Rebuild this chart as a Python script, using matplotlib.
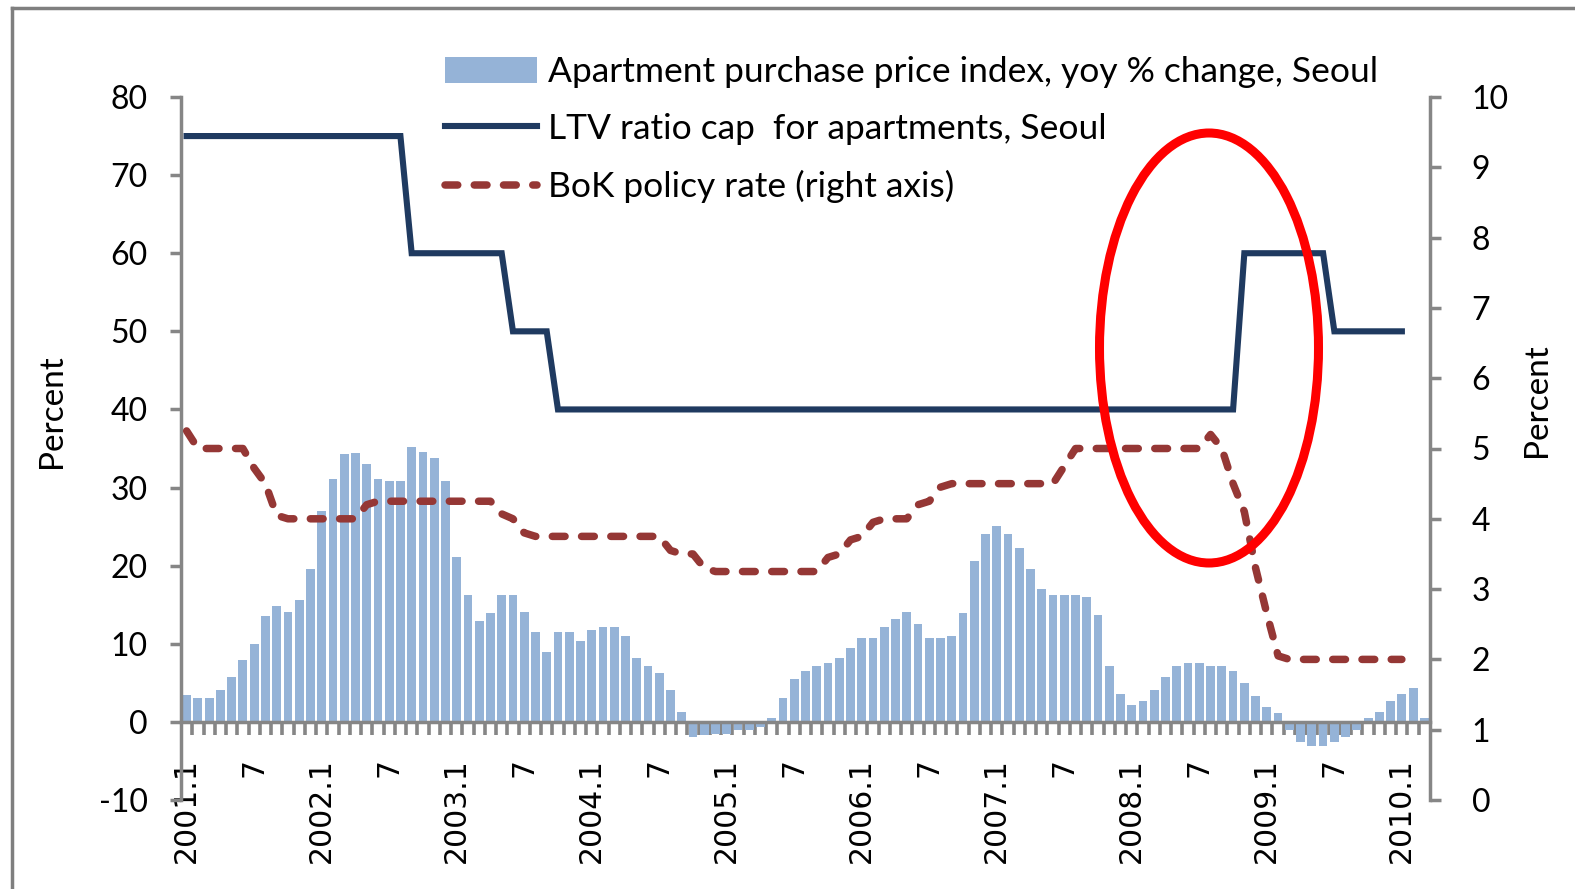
import numpy as np
import matplotlib
matplotlib.use("Agg")
import matplotlib.pyplot as plt
from matplotlib.patches import Ellipse
from matplotlib.lines import Line2D

plt.rcParams['axes.unicode_minus'] = False

# ---------------- data (monthly, 2001.1 - 2010.3) ----------------
price_yoy_2001 = [3.4, 3.0, 3.0, 4.1, 5.8, 7.9, 10.0, 13.6, 14.9, 14.1, 15.6, 19.6]
price_yoy_2002 = [27.0, 31.1, 34.3, 34.4, 33.0, 31.1, 30.8, 30.9, 35.2, 34.6, 33.8, 30.8]
price_yoy_2003 = [21.1, 16.3, 12.9, 13.9, 16.3, 16.3, 14.1, 11.5, 8.9, 11.5, 11.5, 10.3]
price_yoy_2004 = [11.8, 12.2, 12.1, 11.0, 8.2, 7.2, 6.2, 4.1, 1.3, -1.9, -1.7, -1.5]
price_yoy_2005 = [-1.5, -1.0, -1.0, -0.7, 0.5, 3.0, 5.5, 6.5, 7.2, 7.5, 8.2, 9.4]
price_yoy_2006 = [10.8, 10.8, 12.2, 13.2, 14.1, 12.5, 10.8, 10.8, 11.0, 13.9, 20.6, 24.1]
price_yoy_2007 = [25.1, 24.1, 22.3, 19.6, 17.0, 16.3, 16.3, 16.3, 16.0, 13.7, 7.2, 3.6]
price_yoy_2008 = [2.2, 2.7, 4.1, 5.8, 7.2, 7.5, 7.5, 7.2, 7.2, 6.5, 5.0, 3.3]
price_yoy_2009 = [1.9, 1.2, -1.1, -2.6, -3.1, -3.1, -2.6, -1.9, -1.1, 0.5, 1.3, 2.7]
price_yoy_2010 = [3.6, 4.4, 0.5]

ltv_2001 = [75, 75, 75, 75, 75, 75, 75, 75, 75, 75, 75, 75]
ltv_2002 = [75, 75, 75, 75, 75, 75, 75, 75, 60, 60, 60, 60]
ltv_2003 = [60, 60, 60, 60, 60, 50, 50, 50, 50, 40, 40, 40]
ltv_2004 = [40, 40, 40, 40, 40, 40, 40, 40, 40, 40, 40, 40]
ltv_2005 = [40, 40, 40, 40, 40, 40, 40, 40, 40, 40, 40, 40]
ltv_2006 = [40, 40, 40, 40, 40, 40, 40, 40, 40, 40, 40, 40]
ltv_2007 = [40, 40, 40, 40, 40, 40, 40, 40, 40, 40, 40, 40]
ltv_2008 = [40, 40, 40, 40, 40, 40, 40, 40, 40, 40, 60, 60]
ltv_2009 = [60, 60, 60, 60, 60, 60, 50, 50, 50, 50, 50, 50]
ltv_2010 = [50]

rate_2001 = [5.25, 5.0, 5.0, 5.0, 5.0, 5.0, 4.72, 4.5, 4.05, 4.0, 4.0, 4.0]
rate_2002 = [4.0, 4.0, 4.0, 4.0, 4.2, 4.25, 4.25, 4.25, 4.25, 4.25, 4.25, 4.25]
rate_2003 = [4.25, 4.25, 4.25, 4.25, 4.07, 4.0, 3.8, 3.75, 3.75, 3.75, 3.75, 3.75]
rate_2004 = [3.75, 3.75, 3.75, 3.75, 3.75, 3.75, 3.75, 3.55, 3.5, 3.5, 3.3, 3.25]
rate_2005 = [3.25, 3.25, 3.25, 3.25, 3.25, 3.25, 3.25, 3.25, 3.25, 3.45, 3.5, 3.7]
rate_2006 = [3.75, 3.95, 4.0, 4.0, 4.0, 4.2, 4.25, 4.45, 4.5, 4.5, 4.5, 4.5]
rate_2007 = [4.5, 4.5, 4.5, 4.5, 4.5, 4.5, 4.75, 5.0, 5.0, 5.0, 5.0, 5.0]
rate_2008 = [5.0, 5.0, 5.0, 5.0, 5.0, 5.0, 5.0, 5.2, 5.0, 4.5, 4.1, 3.3]
rate_2009 = [2.65, 2.05, 2.0, 2.0, 2.0, 2.0, 2.0, 2.0, 2.0, 2.0, 2.0, 2.0]
rate_2010 = [2.0]

tick_labels = ["2001.1", "7", "2002.1", "7", "2003.1", "7", "2004.1", "7",
               "2005.1", "7", "2006.1", "7", "2007.1", "7", "2008.1", "7",
               "2009.1", "7", "2010.1"]

legend_labels = ["Apartment purchase price index, yoy % change, Seoul",
                 "LTV ratio cap  for apartments, Seoul",
                 "BoK policy rate (right axis)"]

price = (price_yoy_2001 + price_yoy_2002 + price_yoy_2003 + price_yoy_2004 +
         price_yoy_2005 + price_yoy_2006 + price_yoy_2007 + price_yoy_2008 +
         price_yoy_2009 + price_yoy_2010)
ltv = (ltv_2001 + ltv_2002 + ltv_2003 + ltv_2004 + ltv_2005 + ltv_2006 +
       ltv_2007 + ltv_2008 + ltv_2009 + ltv_2010)
rate = (rate_2001 + rate_2002 + rate_2003 + rate_2004 + rate_2005 + rate_2006 +
        rate_2007 + rate_2008 + rate_2009 + rate_2010)

# ---------------- figure ----------------
W, H = 1575, 889
fig = plt.figure(figsize=(W / 100, H / 100), dpi=100)
fig.patch.set_facecolor('white')

L, R, T, B = 181, 1430, 97, 800
ax = fig.add_axes([L / W, 1 - B / H, (R - L) / W, (B - T) / H])
ax2 = ax.twinx()

grey = '#868686'
bar_c = '#95B3D7'
ltv_c = '#1F3A60'
rate_c = '#953735'

x_bar = np.arange(len(price))
x_ltv = np.arange(len(ltv))
x_rate = np.arange(len(rate))

bars = ax.bar(x_bar, price, width=0.78, color=bar_c, zorder=2,
              label=legend_labels[0])
ln1, = ax.plot(x_ltv, ltv, color=ltv_c, lw=4.4, zorder=3,
               solid_joinstyle='miter', label=legend_labels[1])
ln2, = ax2.plot(x_rate, rate, color=rate_c, lw=5.4, zorder=3,
                linestyle=(0, (1.7, 2.2)), dash_capstyle='round',
                label=legend_labels[2])

ax.set_xlim(-0.5, 110.5)
ax.set_ylim(-10, 80)
ax2.set_ylim(0, 10)

# spines
for s in ['top', 'right']:
    ax.spines[s].set_visible(False)
ax.spines['bottom'].set_position(('data', 0))
ax.spines['bottom'].set_color(grey)
ax.spines['bottom'].set_linewidth(2.5)
ax.spines['left'].set_color(grey)
ax.spines['left'].set_linewidth(2.5)
for s in ['top', 'left', 'bottom']:
    ax2.spines[s].set_visible(False)
ax2.spines['right'].set_color(grey)
ax2.spines['right'].set_linewidth(2.5)

# x ticks: marks between categories, labels at every 6th month
ax.set_xticks(np.arange(0.5, 110.5, 1))
ax.set_xticklabels([])
ax.set_xticks(np.arange(0, 109, 6), labels=tick_labels, minor=True)
ax.tick_params(axis='x', which='major', direction='out', length=9.5,
               width=2.6, color=grey)
ax.tick_params(axis='x', which='minor', length=0, pad=26, labelsize=21.5,
               labelrotation=90)
for t in ax.get_xticklabels(minor=True):
    t.set_fontfamily('DejaVu Sans')

ax.set_yticks(np.arange(-10, 81, 10))
ax.tick_params(axis='y', direction='out', length=8, width=2.5, color=grey,
               pad=16, labelsize=23)
ax2.set_yticks(np.arange(0, 11, 1))
ax2.tick_params(axis='y', direction='out', length=8, width=2.5, color=grey,
                pad=22, labelsize=23)
for t in ax.get_yticklabels() + ax2.get_yticklabels():
    t.set_fontfamily('Lato')

# axis titles
fig.text(52 / W, 1 - 411 / H, 'Percent', rotation=90, ha='center',
         va='center', fontsize=24, family='Lato')
fig.text(1537 / W, 1 - 400 / H, 'Percent', rotation=90, ha='center',
         va='center', fontsize=24, family='Lato')

# legend
leg = fig.legend([bars, ln1, ln2], legend_labels, loc='upper left',
                 bbox_to_anchor=(445 / W, 1 - 56 / H), frameon=False,
                 prop={'family': 'Lato', 'size': 25.5}, handlelength=2.6,
                 handleheight=0.75, handletextpad=0.3, labelspacing=0.71,
                 borderpad=0, borderaxespad=0)

# highlight ellipse
fig.add_artist(Ellipse((1209 / W, 1 - 348 / H), 219 / W, 430 / H,
                       transform=fig.transFigure, fill=False,
                       edgecolor='#FF0000', lw=6.5, zorder=10))

# outer frame
fig.add_artist(Line2D([12 / W, 12 / W], [0, 1 - 8 / H],
                      transform=fig.transFigure, color='#7F7F7F', lw=2.5))
fig.add_artist(Line2D([12 / W, 1], [1 - 8 / H, 1 - 8 / H],
                      transform=fig.transFigure, color='#7F7F7F', lw=2.5))

fig.savefig('out.png', dpi=100, facecolor='white')
